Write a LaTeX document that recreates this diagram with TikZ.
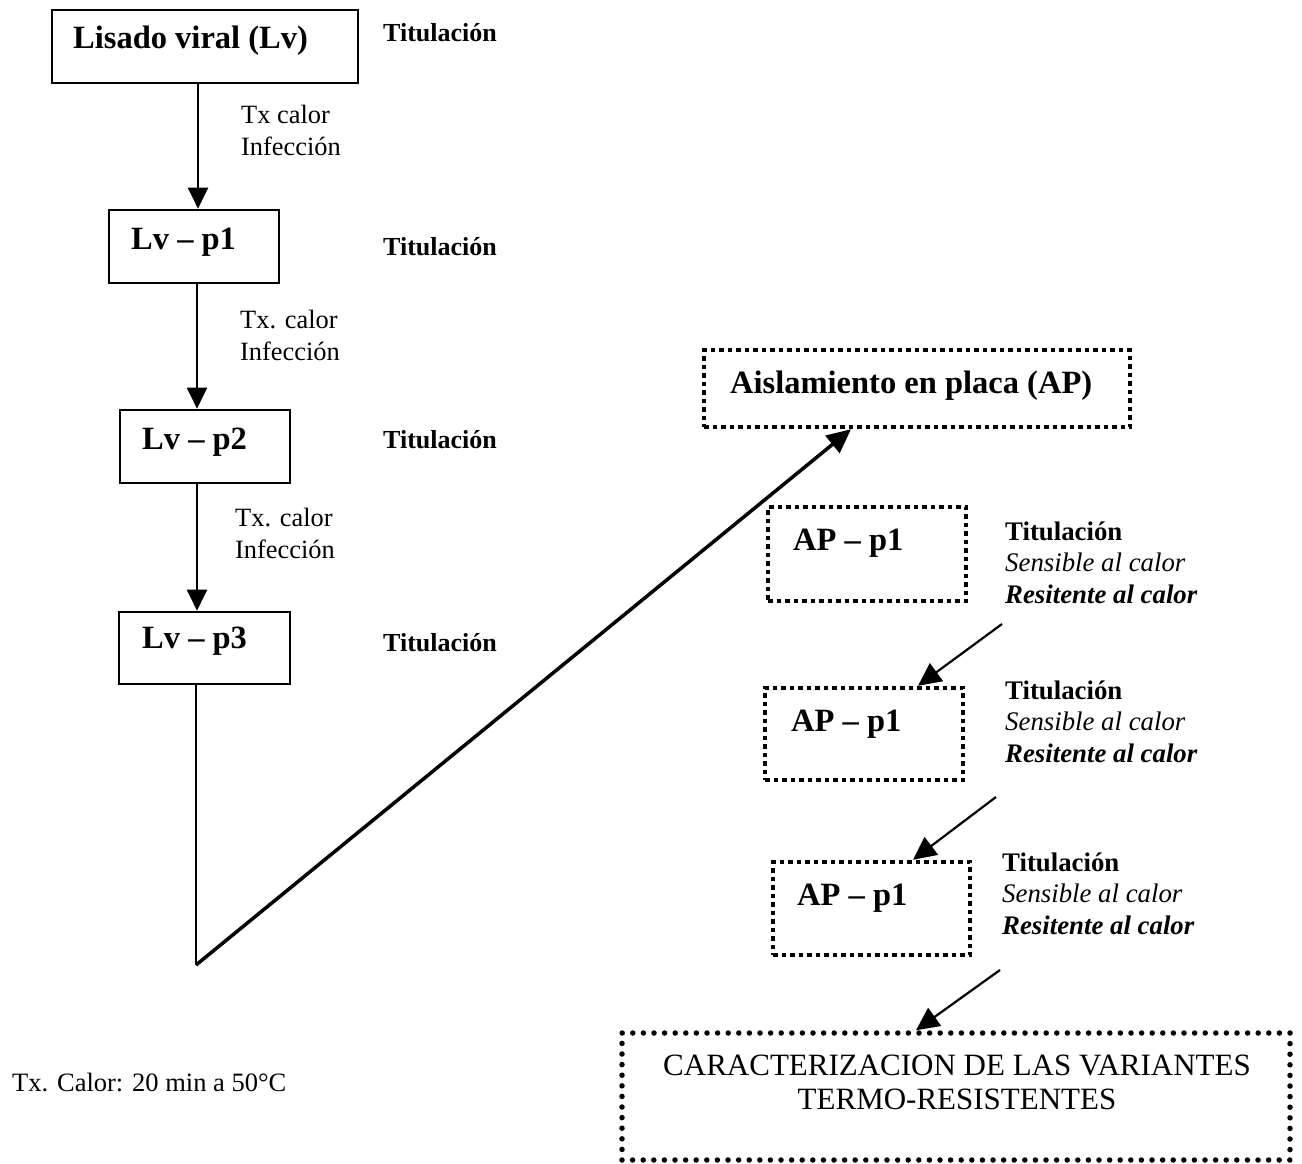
\documentclass[tikz,border=0pt]{standalone}
\usepackage{fontspec}
\setmainfont{Liberation Serif}
\usetikzlibrary{arrows.meta}
\tikzset{
  solidbox/.style={draw, line width=2.6pt, minimum width=#1, inner sep=0pt},
  dotbox/.style={draw, line width=4.5pt, dash pattern=on 4.5pt off 4pt, inner sep=0pt},
  rounddotbox/.style={draw, line width=5.5pt, line cap=round, dash pattern=on 0pt off 10.6pt, inner sep=0pt},
  boxtxt/.style={anchor=base west, inner sep=0pt, font=\fontsize{32.5}{36}\selectfont\bfseries},
  tit/.style={anchor=base west, inner sep=0pt, font=\fontsize{26}{30}\selectfont\bfseries},
  note/.style={anchor=base west, inner sep=0pt, align=left, font=\fontsize{26.4}{32}\selectfont},
  side/.style={anchor=base west, inner sep=0pt, align=left, font=\fontsize{26.8}{31.5}\selectfont},
  arr/.style={line width=2pt, -{Triangle[length=21pt,width=20pt]}},
  thinarr/.style={line width=2.2pt, -{Triangle[length=23pt,width=22pt]}},
}
\begin{document}
\begin{tikzpicture}[x=1pt,y=-1pt]
\useasboundingbox (0,0) rectangle (1302,1163);
% left column boxes
\node[solidbox=306pt, minimum height=73pt] (lv) at (205,46.5) {};
\node[boxtxt] (lvt) at (73,48) {Lisado viral (Lv)};
\node[solidbox=170pt, minimum height=73pt] (p1) at (194,246.5) {};
\node[boxtxt] (p1t) at (131,249) {Lv -- p1};
\node[solidbox=170pt, minimum height=73pt] (p2) at (205,446.5) {};
\node[boxtxt] (p2t) at (142,449) {Lv -- p2};
\node[solidbox=171pt, minimum height=72pt] (p3) at (204.5,648) {};
\node[boxtxt] (p3t) at (142,648) {Lv -- p3};
% titulacion left
\node[tit] (t0) at (383,41) {Titulación};
\node[tit] (t1) at (383,255) {Titulación};
\node[tit] (t2) at (383,448) {Titulación};
\node[tit] (t3) at (383,651) {Titulación};
% arrow labels (base = last line)
\node[note] (n1) at (241,155) {Tx calor\\Infección};
\node[note] (n2) at (240,360) {Tx. calor\\Infección};
\node[note] (n3) at (235,558) {Tx. calor\\Infección};
% arrows left
\draw[arr] (lv.south -| 198,0) -- (p1.north -| 198,0);
\draw[arr] (p1.south -| 197,0) -- (p2.north -| 197,0);
\draw[arr] (p2.south -| 197,0) -- (p3.north -| 197,0);
% AP
\node[dotbox, minimum width=426pt, minimum height=77pt] (ap) at (917,388.5) {};
\node[boxtxt] (apt) at (730,393) {Aislamiento en placa (AP)};
\coordinate (v) at (196,965);
\draw[line width=2pt] (p3.south -| 196,0) -- (v);
\draw[line width=3.5pt, -{Triangle[length=24pt,width=22pt]}] (v) -- (ap.south -| 851,0);
% AP boxes
\node[dotbox, minimum width=198pt, minimum height=94pt] (a1) at (867,554) {};
\node[boxtxt] (a1t) at (793,550) {AP -- p1};
\node[dotbox, minimum width=198pt, minimum height=92pt] (a2) at (864,734) {};
\node[boxtxt] (a2t) at (791,731) {AP -- p1};
\node[dotbox, minimum width=197pt, minimum height=93pt] (a3) at (871.5,908.5) {};
\node[boxtxt] (a3t) at (797,905) {AP -- p1};
% side labels (base = last line)
\node[side] (s1) at (1005,603) {\textbf{Titulación}\\\textit{Sensible al calor}\\\textbf{\textit{Resitente al calor}}};
\node[side] (s2) at (1005,762) {\textbf{Titulación}\\\textit{Sensible al calor}\\\textbf{\textit{Resitente al calor}}};
\node[side] (s3) at (1002,934) {\textbf{Titulación}\\\textit{Sensible al calor}\\\textbf{\textit{Resitente al calor}}};
% final box
\node[rounddotbox, minimum width=668pt, minimum height=127pt] (fin) at (956,1096.5) {};
\node[anchor=base, inner sep=0pt, align=center, font=\fontsize{31}{34}\selectfont] (fint) at (957,1109) {CARACTERIZACION DE LAS VARIANTES\\TERMO-RESISTENTES};
% small arrows
\coordinate (c1) at (1002,624);
\coordinate (c2) at (996,797);
\coordinate (c3) at (1000,970);
\draw[thinarr] (c1) -- (a2.north -| 918,0);
\draw[thinarr] (c2) -- (a3.north -| 913,0);
\draw[thinarr] (c3) -- (fin.north -| 916,0);
% footnote
\node[anchor=base west, inner sep=0pt, font=\fontsize{26.5}{30}\selectfont] (foot) at (12,1091) {Tx. Calor: 20 min a 50°C};
\end{tikzpicture}
\end{document}
